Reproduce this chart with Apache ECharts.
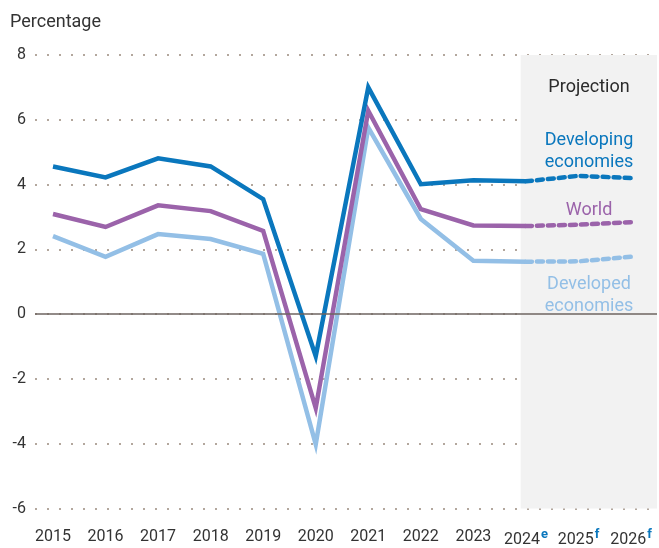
<!DOCTYPE html>
<html>
<head>
<meta charset="utf-8">
<script src="https://cdn.jsdelivr.net/npm/echarts@6/dist/echarts.min.js"></script>
<style>
  html, body { margin: 0; padding: 0; background: #fff; }
  #chart-container { width: 659px; height: 548px; }
</style>
</head>
<body>
<div id="chart-container"></div>
<script>
const years = [2015, 2016, 2017, 2018, 2019, 2020, 2021, 2022, 2023, 2024, 2025, 2026];
const yearMarks = ["", "", "", "", "", "", "", "", "", "e", "f", "f"];
const developing = [4.56, 4.22, 4.81, 4.56, 3.55, -1.3, 7.0, 4.01, 4.13, 4.1, 4.27, 4.2];
const world = [3.09, 2.69, 3.36, 3.18, 2.57, -2.9, 6.28, 3.24, 2.74, 2.72, 2.76, 2.84];
const developed = [2.41, 1.77, 2.47, 2.32, 1.86, -4.02, 5.76, 2.94, 1.65, 1.62, 1.63, 1.77];
const projectionFrom = 2023.9;
const firstProjected = 9; // index of 2024

const BLUE = "#0a77bd";
const PURPLE = "#9b63aa";
const LIGHT = "#93bfe6";

const toPairs = (vals, from, to) =>
  years.slice(from, to).map((y, i) => [y, vals[from + i]]);

const lineSeries = (name, vals, color) => [
  {
    name: name,
    type: "line",
    data: toPairs(vals, 0, firstProjected + 1),
    symbol: "none",
    lineStyle: { color: color, width: 4.5, cap: "butt", join: "miter" },
    silent: true,
  },
  {
    name: name + " projection",
    type: "line",
    data: toPairs(vals, firstProjected, years.length),
    symbol: "none",
    lineStyle: { color: color, width: 4.5, type: [6, 5], cap: "round" },
    silent: true,
  },
];

const label = (x, y, text, color) => ({
  type: "text",
  x: x,
  y: y,
  z: 100,
  silent: true,
  style: {
    text: text,
    fill: color,
    fontSize: 18,
    lineHeight: 22,
    fontFamily: "Roboto",
    align: "center",
    verticalAlign: "middle",
  },
});

const option = {
  animation: false,
  textStyle: { fontFamily: "Roboto" },
  title: {
    text: "Percentage",
    left: 5,
    top: 8,
    textStyle: { fontSize: 18, fontWeight: "normal", color: "#333", fontFamily: "Roboto" },
  },
  grid: { left: 35, right: 2, top: 55, bottom: 36 },
  xAxis: {
    type: "value",
    min: 2014.6574,
    max: 2026.4945,
    axisLine: { show: false },
    axisTick: { show: false },
    splitLine: { show: false },
    axisLabel: {
      customValues: years,
      margin: 20,
      formatter: (v) => {
        const mark = yearMarks[years.indexOf(v)];
        return mark ? "{y|" + v + "}{s|" + mark + "}" : "{y|" + v + "}";
      },
      rich: {
        y: { fontSize: 16, color: "#333", fontFamily: "Roboto" },
        s: { fontSize: 13, fontWeight: "bold", color: BLUE, padding: [0, 0, 10, 1], fontFamily: "Roboto" },
      },
    },
  },
  yAxis: {
    type: "value",
    min: -6,
    max: 8,
    interval: 2,
    axisLine: { show: false },
    axisTick: { show: false },
    axisLabel: { fontSize: 16, color: "#333", margin: 9, fontFamily: "Roboto" },
    splitLine: { lineStyle: { color: "#b3a79d", width: 2, type: [2, 10] } },
  },
  series: [
    {
      type: "line",
      data: [],
      silent: true,
      markArea: {
        silent: true,
        itemStyle: { color: "#f2f2f2" },
        data: [[{ xAxis: projectionFrom, yAxis: "max" }, { xAxis: "max", yAxis: "min" }]],
      },
      markLine: {
        silent: true,
        symbol: "none",
        label: { show: false },
        lineStyle: { color: "#6e6560", width: 1.5, type: "solid" },
        data: [{ yAxis: 0 }],
      },
    },
    ...lineSeries("Developed economies", developed, LIGHT),
    ...lineSeries("World", world, PURPLE),
    ...lineSeries("Developing economies", developing, BLUE),
  ],
  graphic: [
    label(589, 87, "Projection", "#2b2b2b"),
    label(589, 151, "Developing\neconomies", BLUE),
    label(589, 210, "World", PURPLE),
    label(589, 295, "Developed\neconomies", LIGHT),
  ],
};

const myChart = echarts.init(document.getElementById("chart-container"), null, { renderer: "canvas" });
myChart.setOption(option);
window.addEventListener("resize", () => myChart.resize());
</script>
</body>
</html>
